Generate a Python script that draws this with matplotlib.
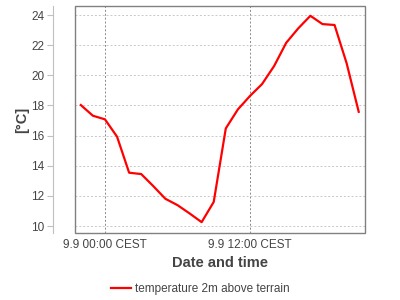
import numpy as np
import matplotlib.pyplot as plt
from matplotlib.patches import Rectangle

# hours relative to 9.9 00:00 CEST
hours = [-2, -1, 0, 1, 2, 3, 4, 5, 6, 7, 8, 9, 10, 11, 12, 13, 14, 15, 16, 17, 18, 19, 20, 21]
temps = [18.03, 17.32, 17.08, 15.93, 13.54, 13.45, 12.65, 11.81, 11.39, 10.84, 10.26, 11.6,
         16.48, 17.74, 18.63, 19.42, 20.62, 22.16, 23.12, 23.95, 23.4, 23.34, 20.8, 17.58]
tick_pos = [0, 12]
tick_labels = ["9.9 00:00 CEST", "9.9 12:00 CEST"]
y_ticks = [10, 12, 14, 16, 18, 20, 22, 24]

plt.rcParams['font.family'] = ['Liberation Sans', 'DejaVu Sans']

fig = plt.figure(figsize=(4, 3), dpi=100)
ax = fig.add_axes([75 / 400, 67 / 300, 290 / 400, 227 / 300])

ax.plot(hours, temps, color='#ff0000', lw=1.6, label='temperature 2m above terrain')

ax.set_xlim(-2.48, 21.52)
ax.set_ylim(9.54, 24.6)

ax.set_yticks(y_ticks)
ax.set_xticks(tick_pos)
ax.set_xticklabels(tick_labels)
ax.tick_params(axis='x', length=0, pad=4, labelsize=8.5, labelcolor='#444444')
ax.tick_params(axis='y', length=4, width=0.8, color='#c0c0c0', pad=2, labelsize=8.5, labelcolor='#444444')

ax.grid(axis='y', ls=(0, (2, 2)), color='#c8c8c8', lw=0.7)
ax.grid(axis='x', ls=(0, (2, 2)), color='#888888', lw=0.7)

for s in ['top', 'right', 'bottom']:
    ax.spines[s].set_visible(False)
# y axis line sits about 22 px left of the plot frame (outward is in points)
ax.spines['left'].set_position(('outward', 22 * 72 / 100))
ax.spines['left'].set_color('#c0c0c0')
ax.spines['left'].set_linewidth(0.8)

# frame round the plot area
ax.add_patch(Rectangle((0, 0), 1, 1, transform=ax.transAxes, fill=False,
                       ec='#808080', lw=1.0, clip_on=False, zorder=5))

ax.set_xlabel('Date and time', fontsize=10.5, fontweight='bold', color='#444444')
ax.xaxis.set_label_coords(0.5, -23 / 227, transform=ax.transAxes)
ax.set_ylabel('[°C]', fontsize=10.5, fontweight='bold', color='#444444')
ax.yaxis.set_label_coords(-46 / 290, 0.5, transform=ax.transAxes)

fig.legend(loc='center', bbox_to_anchor=(0.5, 11 / 300), frameon=False, fontsize=8.5,
           handlelength=1.7, handletextpad=0.35, labelcolor='#444444')

fig.savefig('out.png', dpi=100)
